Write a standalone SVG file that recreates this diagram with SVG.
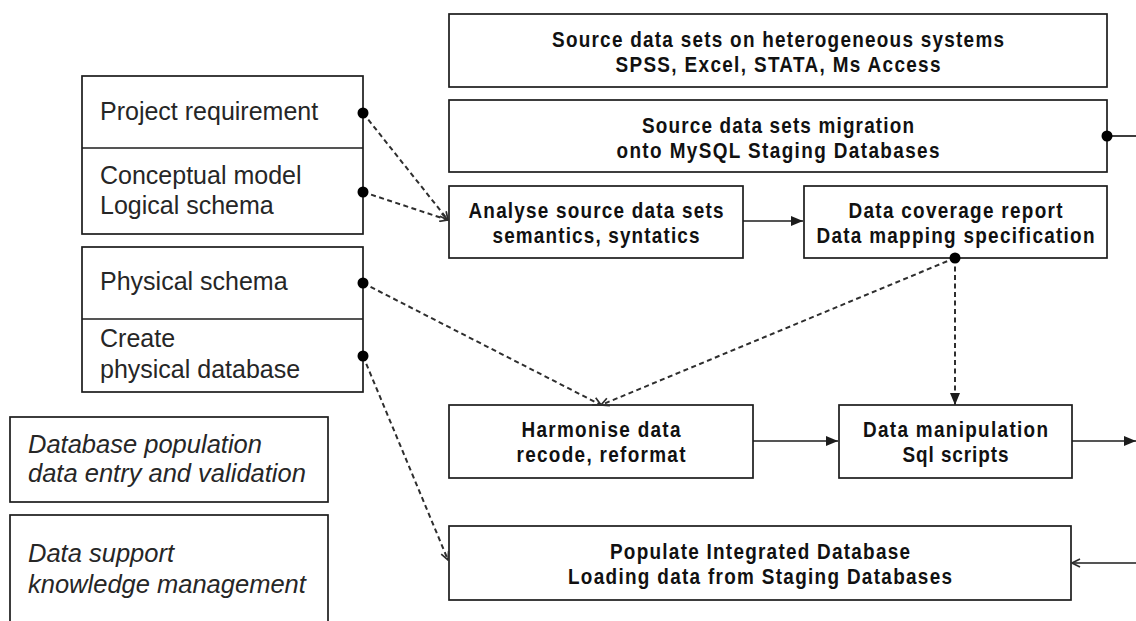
<svg xmlns="http://www.w3.org/2000/svg" width="1136" height="621" viewBox="0 0 1136 621">
  <style>
    .box { fill: #ffffff; stroke: #1c1c1c; stroke-width: 1.7; }
    .div { stroke: #1c1c1c; stroke-width: 1.7; }
    .plain { font-family: "Liberation Sans", Arial, sans-serif; font-size: 25px; fill: #262626; }
    .ital { font-family: "Liberation Sans", Arial, sans-serif; font-size: 25.5px; font-style: italic; fill: #262626; }
    /* condensed bold: glyphs squeezed to 88% width, spacing set by textLength */
    .bold { font-family: "Liberation Sans", Arial, sans-serif; font-size: 21.5px; font-weight: bold; fill: #111111; text-anchor: middle; }
    .solid { fill: none; stroke: #1c1c1c; stroke-width: 1.7; }
    .dash { fill: none; stroke: #2e2e2e; stroke-width: 2; stroke-dasharray: 5 3.5; }
    .dot { fill: #000000; }
  </style>
  <defs>
    <marker id="tri" viewBox="0 0 12 10" refX="12" refY="5" markerWidth="12" markerHeight="10" markerUnits="userSpaceOnUse" orient="auto">
      <path d="M0,0 L12,5 L0,10 z" fill="#1c1c1c"/>
    </marker>
    <marker id="open" viewBox="0 0 10 10" refX="9" refY="5" markerWidth="10" markerHeight="10" markerUnits="userSpaceOnUse" orient="auto">
      <path d="M1,1 L9,5 L1,9" fill="none" stroke="#2e2e2e" stroke-width="1.7"/>
    </marker>
  </defs>
  <rect width="1136" height="621" fill="#ffffff"/>

  <!-- left column: modelling steps -->
  <g id="model-box">
    <rect class="box" x="82" y="76" width="281" height="158"/>
    <line class="div" x1="82" y1="148" x2="363" y2="148"/>
    <text class="plain" x="100" y="120">Project requirement</text>
    <text class="plain" x="100" y="184">Conceptual model</text>
    <text class="plain" x="100" y="214">Logical schema</text>
  </g>
  <g id="physical-box">
    <rect class="box" x="82" y="247" width="281" height="145"/>
    <line class="div" x1="82" y1="319" x2="363" y2="319"/>
    <text class="plain" x="100" y="290">Physical schema</text>
    <text class="plain" x="100" y="347">Create</text>
    <text class="plain" x="100" y="378">physical database</text>
  </g>
  <g id="population-box">
    <rect class="box" x="10" y="417" width="318" height="85"/>
    <text class="ital" x="28" y="453">Database population</text>
    <text class="ital" x="28" y="482">data entry and validation</text>
  </g>
  <g id="support-box">
    <rect class="box" x="10" y="515" width="318" height="120"/>
    <text class="ital" x="28" y="562">Data support</text>
    <text class="ital" x="28" y="593">knowledge management</text>
  </g>

  <!-- right column: integration process (text x and textLength are in the 0.88-scaled frame) -->
  <g id="source-sets">
    <rect class="box" x="449" y="14" width="658" height="73"/>
    <text class="bold" transform="scale(0.88,1)" x="884.09" y="47" textLength="513.64" lengthAdjust="spacing">Source data sets on heterogeneous systems</text>
    <text class="bold" transform="scale(0.88,1)" x="884.09" y="72" textLength="369.32" lengthAdjust="spacing">SPSS, Excel, STATA, Ms Access</text>
  </g>
  <g id="migration">
    <rect class="box" x="449" y="100" width="658" height="72"/>
    <text class="bold" transform="scale(0.88,1)" x="884.09" y="133" textLength="309.09" lengthAdjust="spacing">Source data sets migration</text>
    <text class="bold" transform="scale(0.88,1)" x="884.09" y="158" textLength="367.05" lengthAdjust="spacing">onto MySQL Staging Databases</text>
  </g>
  <g id="analyse">
    <rect class="box" x="449" y="186" width="294" height="72"/>
    <text class="bold" transform="scale(0.88,1)" x="677.27" y="218" textLength="289.77" lengthAdjust="spacing">Analyse source data sets</text>
    <text class="bold" transform="scale(0.88,1)" x="677.27" y="243" textLength="235.23" lengthAdjust="spacing">semantics, syntatics</text>
  </g>
  <g id="coverage">
    <rect class="box" x="804" y="186" width="303" height="72"/>
    <text class="bold" transform="scale(0.88,1)" x="1085.8" y="218" textLength="243.18" lengthAdjust="spacing">Data coverage report</text>
    <text class="bold" transform="scale(0.88,1)" x="1085.8" y="243" textLength="315.91" lengthAdjust="spacing">Data mapping specification</text>
  </g>
  <g id="harmonise">
    <rect class="box" x="449" y="405" width="304" height="73"/>
    <text class="bold" transform="scale(0.88,1)" x="682.95" y="437" textLength="180.68" lengthAdjust="spacing">Harmonise data</text>
    <text class="bold" transform="scale(0.88,1)" x="682.95" y="462" textLength="192.05" lengthAdjust="spacing">recode, reformat</text>
  </g>
  <g id="manipulation">
    <rect class="box" x="839" y="405" width="233" height="73"/>
    <text class="bold" transform="scale(0.88,1)" x="1085.8" y="437" textLength="210.23" lengthAdjust="spacing">Data manipulation</text>
    <text class="bold" transform="scale(0.88,1)" x="1085.8" y="462" textLength="120.45" lengthAdjust="spacing">Sql scripts</text>
  </g>
  <g id="populate">
    <rect class="box" x="449" y="526" width="622" height="74"/>
    <text class="bold" transform="scale(0.88,1)" x="863.64" y="559" textLength="340.91" lengthAdjust="spacing">Populate Integrated Database</text>
    <text class="bold" transform="scale(0.88,1)" x="863.64" y="584" textLength="436.36" lengthAdjust="spacing">Loading data from Staging Databases</text>
  </g>

  <!-- connectors -->
  <g id="connectors">
    <line class="dash" x1="363" y1="113" x2="448" y2="220" marker-end="url(#open)"/>
    <line class="dash" x1="363" y1="192" x2="448" y2="220" marker-end="url(#open)"/>
    <line class="dash" x1="363" y1="283" x2="601" y2="405" marker-end="url(#open)"/>
    <line class="dash" x1="955" y1="258" x2="601" y2="405" marker-end="url(#open)"/>
    <line class="dash" x1="363" y1="356" x2="448" y2="560" marker-end="url(#open)"/>
    <line class="dash" x1="955" y1="258" x2="955" y2="405" marker-end="url(#tri)"/>
    <line class="solid" x1="743" y1="221" x2="803" y2="221" marker-end="url(#tri)"/>
    <line class="solid" x1="753" y1="441" x2="838" y2="441" marker-end="url(#tri)"/>
    <line class="solid" x1="1072" y1="441" x2="1136" y2="441" marker-end="url(#tri)"/>
    <line class="solid" x1="1107" y1="136" x2="1136" y2="136"/>
    <line class="solid" x1="1136" y1="563" x2="1072" y2="563" marker-end="url(#open)"/>
    <circle class="dot" cx="363" cy="113" r="5.5"/>
    <circle class="dot" cx="363" cy="192" r="5.5"/>
    <circle class="dot" cx="363" cy="283" r="5.5"/>
    <circle class="dot" cx="363" cy="356" r="5.5"/>
    <circle class="dot" cx="955" cy="258" r="5.5"/>
    <circle class="dot" cx="1107" cy="136" r="5.5"/>
  </g>
</svg>
